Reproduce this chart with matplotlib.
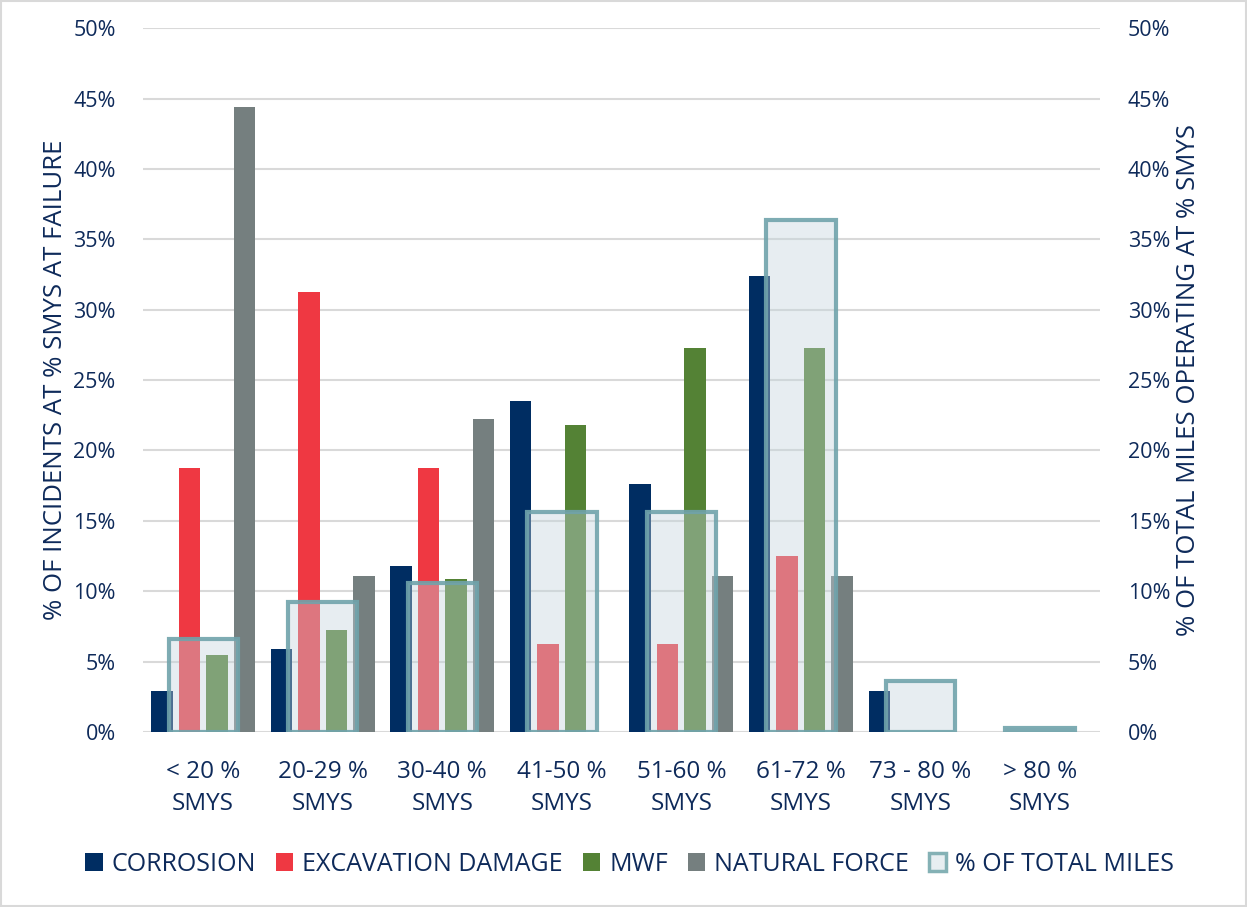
import matplotlib.pyplot as plt
import numpy as np
from matplotlib.patches import Patch
from matplotlib.ticker import PercentFormatter

plt.rcParams['font.family'] = ['Open Sans', 'DejaVu Sans']

# data
categories = ['< 20 %\nSMYS', '20-29 %\nSMYS', '30-40 %\nSMYS', '41-50 %\nSMYS',
              '51-60 %\nSMYS', '61-72 %\nSMYS', '73 - 80 %\nSMYS', '> 80 %\nSMYS']
corrosion = [2.9, 5.9, 11.8, 23.5, 17.6, 32.4, 2.9, 0]
excavation = [18.75, 31.25, 18.75, 6.25, 6.25, 12.5, 0, 0]
mwf = [5.45, 7.27, 10.9, 21.8, 27.3, 27.3, 0, 0]
natural_force = [44.4, 11.1, 22.2, 0, 11.1, 11.1, 0, 0]
total_miles = [6.6, 9.2, 10.6, 15.6, 15.6, 36.4, 3.6, 0.3]

txt = '#0E2A5A'
series = [('CORROSION', corrosion, '#002D62'),
          ('EXCAVATION DAMAGE', excavation, '#EF3842'),
          ('MWF', mwf, '#548235'),
          ('NATURAL FORCE', natural_force, '#757F7F')]

fig = plt.figure(figsize=(12.47, 9.07), dpi=100)
ax = fig.add_axes([0.115, 0.193, 0.767, 0.776])
ax2 = ax.twinx()

x = np.arange(len(categories))
w = 0.18
step = 0.23
for i, (name, vals, col) in enumerate(series):
    ax.bar(x + (i - 1.5) * step, vals, w, color=col, label=name, zorder=2)

# % of total miles, drawn on the right axis over the incident bars
ax2.bar(x, total_miles, 0.58, facecolor=(195/255, 212/255, 220/255, 0.4),
        edgecolor=(0.44, 0.64, 0.67, 0.9), linewidth=3, zorder=3)

for a in (ax, ax2):
    a.set_ylim(0, 50)
    a.set_yticks(np.arange(0, 51, 5))
    a.yaxis.set_major_formatter(PercentFormatter(decimals=0))
    a.tick_params(axis='y', length=0, labelsize=15.5, colors=txt, pad=20)
    for s in a.spines.values():
        s.set_visible(False)
ax.set_xlim(-0.5, len(categories) - 0.5)
ax.set_xticks(x)
ax.set_xticklabels(categories, fontsize=17.5, color=txt, linespacing=1.45)
ax.tick_params(axis='x', length=0, pad=20)
ax.grid(axis='y', color='#D9D9D9', linewidth=1.5, zorder=0)
ax.set_axisbelow(True)

ax.set_ylabel('% OF INCIDENTS AT % SMYS AT FAILURE', fontsize=18.5, color=txt, labelpad=4)
ax2.set_ylabel('% OF TOTAL MILES OPERATING AT % SMYS', fontsize=18.5, color=txt, labelpad=4)

handles = [Patch(facecolor=c, label=n) for n, _, c in series]
handles.append(Patch(facecolor='#E7EEF1', edgecolor='#84B1B5', linewidth=2.5,
                     label='% OF TOTAL MILES'))
leg = fig.legend(handles=handles, loc='center', bbox_to_anchor=(0.505, 0.047), ncol=5,
                 frameon=False, fontsize=18, handlelength=0.7, handleheight=0.7,
                 handletextpad=0.35, columnspacing=0.8)
for t in leg.get_texts():
    t.set_color(txt)

fig.patches.append(plt.Rectangle((0.001, 0.001), 0.998, 0.998, transform=fig.transFigure,
                                 fill=False, edgecolor='#D9D9D9', linewidth=1.5))

fig.savefig('out.png', dpi=100)
